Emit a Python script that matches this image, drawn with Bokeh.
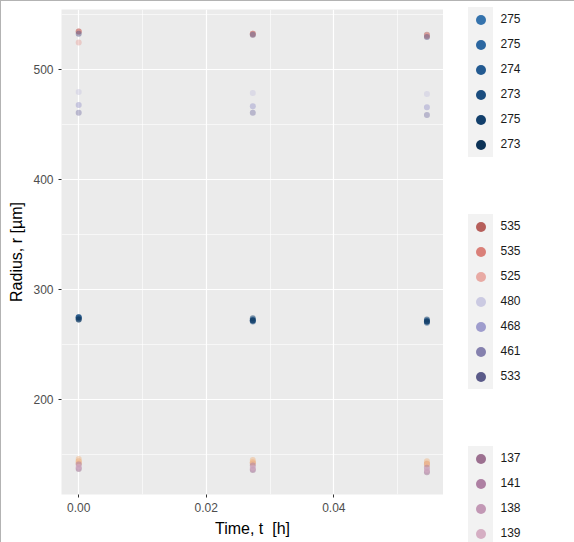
from bokeh.plotting import figure
from bokeh.layouts import row
from bokeh.models import Legend, LegendItem, FixedTicker, NumeralTickFormatter, ColumnDataSource, Range1d
from bokeh.embed import file_html
from bokeh.resources import INLINE

# ---- data ----
times = [0.0, 0.0273, 0.0546]

blue_labels = ["275", "275", "274", "273", "275", "273"]
blue_colors = ["#3573ad", "#2c67a1", "#235a91", "#1b4d7f", "#123f6b", "#0c3256"]
blue_values = [
    [275, 273, 272],
    [275, 272, 271],
    [274, 272, 271],
    [273, 271, 270],
    [275, 274, 273],
    [273, 272, 271],
]

mid_labels = ["535", "535", "525", "480", "468", "461", "533"]
mid_colors = ["#b65f5b", "#da8079", "#e8aaa4", "#cbcae2", "#9f9dcd", "#8581ae", "#5b5b89"]
mid_values = [
    [535, 533, 532],
    [535, 533, 531],
    [525, 532, 531],
    [480, 479, 478],
    [468, 467, 466],
    [461, 461, 459],
    [533, 532, 530],
]

low_labels = ["137", "141", "138", "139"]
low_colors = ["#9c7090", "#ae80a3", "#c298b5", "#d5aec3"]
low_values = [
    [137, 136, 134],
    [141, 140, 138],
    [138, 137, 135],
    [139, 138, 136],
]
# series whose legend entries fall below the visible area
low_more_colors = ["#e8a070", "#f0b888", "#d98a6c", "#f4c8a0"]
low_more_values = [
    [144, 143, 142],
    [146, 145, 144],
    [142, 142, 141],
    [143, 143, 141],
]

x_ticks = [0.0, 0.02, 0.04]
x_minor = [0.01, 0.03, 0.05]
y_ticks = [200, 300, 400, 500]
y_minor = [150, 250, 350, 450, 550]

FONT = "Liberation Sans"

p = figure(width=442, height=541, output_backend="svg", toolbar_location=None,
           x_range=Range1d(-0.0027, 0.0572), y_range=Range1d(113.7, 555),
           min_border_left=60, min_border_right=0, min_border_top=8, min_border_bottom=48,
           x_axis_label="Time, t\u00a0 [h]", y_axis_label="Radius, r [µm]")
p.background_fill_color = "#ebebeb"
p.border_fill_color = "white"
p.outline_line_color = None

p.xaxis.ticker = FixedTicker(ticks=x_ticks, minor_ticks=x_minor)
p.yaxis.ticker = FixedTicker(ticks=y_ticks, minor_ticks=y_minor)
p.xaxis.formatter = NumeralTickFormatter(format="0.00")
p.yaxis.formatter = NumeralTickFormatter(format="0")

for g in (p.xgrid, p.ygrid):
    g.grid_line_color = "white"
    g.grid_line_width = 1.2
    g.minor_grid_line_color = "white"
    g.minor_grid_line_width = 0.6

for ax in (p.xaxis, p.yaxis):
    ax.axis_line_color = None
    ax.major_tick_line_color = "#333333"
    ax.major_tick_out = 3
    ax.major_tick_in = 0
    ax.minor_tick_line_color = None
    ax.major_label_text_color = "#4d4d4d"
    ax.major_label_text_font_size = "12px"
    ax.major_label_text_font = FONT
    ax.major_label_standoff = 4
    ax.axis_label_text_font_size = "16px"
    ax.axis_label_text_font_style = "normal"
    ax.axis_label_text_font = FONT
    ax.axis_label_text_color = "#000000"
    ax.axis_label_standoff = 5

# legend panel: a figure whose frame is its whole area
q = figure(width=131, height=541, output_backend="svg", toolbar_location=None,
           x_range=Range1d(0, 1), y_range=Range1d(0, 1),
           x_axis_location=None, y_axis_location=None,
           min_border_left=0, min_border_right=0, min_border_top=0, min_border_bottom=0)
q.grid.visible = False
q.background_fill_color = "white"
q.border_fill_color = "white"
q.outline_line_color = None

frame_bottom = 542.0  # page y of q's frame bottom
try:
    q.frame_align = False
except Exception:
    q.min_border_top = 8
    q.min_border_bottom = 48
    frame_bottom = 494.0


def add_group(labels, colors, values, top):
    keys, texts = [], []
    for lab, col, vals in zip(labels, colors, values):
        src = ColumnDataSource(dict(t=times, r=vals))
        p.scatter("t", "r", source=src, size=6, fill_color=col, fill_alpha=0.5, line_color=None)
        key = q.scatter("t", "r", source=src, size=10, fill_color=col, fill_alpha=1.0,
                        line_color=None, visible=False)
        keys.append(LegendItem(label="", renderers=[key]))
        texts.append(LegendItem(label=lab, renderers=[]))
    height = 25 * len(labels)
    loc = (24.5, frame_bottom - (top + height))
    common = dict(location=loc, orientation="vertical", glyph_width=25, glyph_height=25,
                  label_height=25, spacing=0, padding=0, margin=0, border_line_color=None,
                  label_text_font_size="12px", label_text_font=FONT, label_text_color="#1a1a1a",
                  inactive_fill_alpha=0)
    lk = Legend(items=keys, label_standoff=0, label_width=0,
                background_fill_color="#f2f2f2", background_fill_alpha=1.0, **common)
    lt = Legend(items=texts, label_standoff=8, label_width=20,
                background_fill_alpha=0.0, **common)
    q.add_layout(lk, "center")
    q.add_layout(lt, "center")


for col, vals in zip(low_more_colors, low_more_values):
    src = ColumnDataSource(dict(t=times, r=vals))
    p.scatter("t", "r", source=src, size=6, fill_color=col, fill_alpha=0.5, line_color=None)

add_group(low_labels, low_colors, low_values, 445.5)
add_group(mid_labels, mid_colors, mid_values, 213.5)
add_group(blue_labels, blue_colors, blue_values, 6.5)

layout = row(p, q, spacing=0)
layout.styles = {"border-left": "1px solid #b3b3b3", "border-top": "1px solid #b3b3b3"}

open("out.html", "w").write(file_html(layout, INLINE))
